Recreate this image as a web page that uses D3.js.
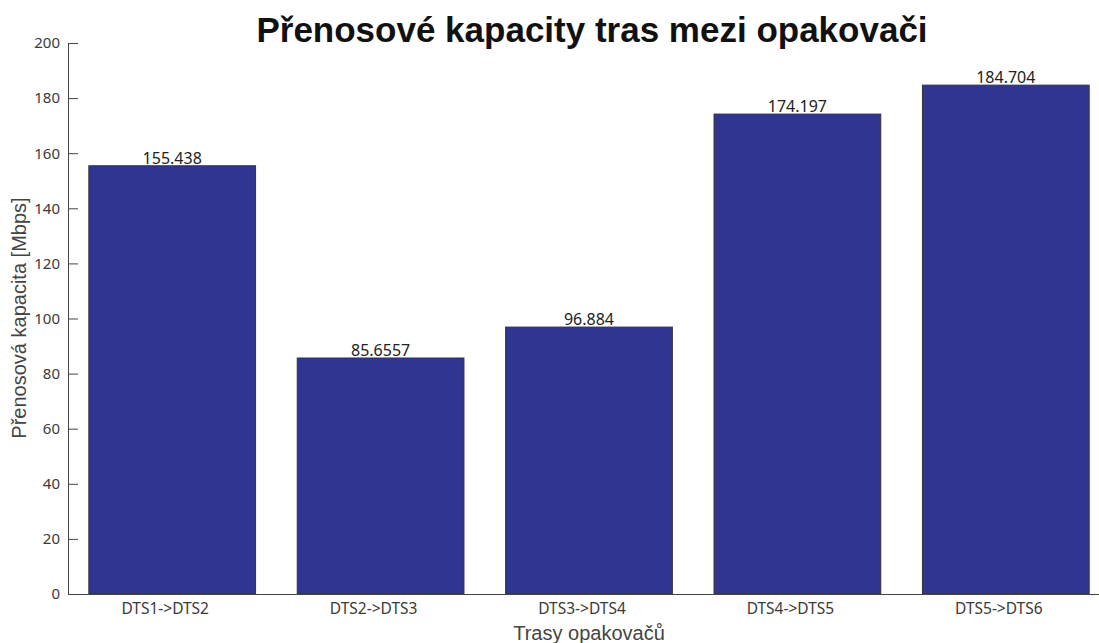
<!DOCTYPE html>
<html>
<head>
  <meta charset="utf-8">
  <title>Přenosové kapacity tras</title>
  <script src="https://d3js.org/d3.v7.min.js"></script>
  <style>
    body { margin: 0; background: white; }
    .tick text { font-family: "Noto Sans", sans-serif; fill: #3a3a3a; }
    .domain, .tick line { stroke: #444; }
  </style>
</head>
<body>
<script>
  // Data
  var routes = ["DTS1->DTS2", "DTS2->DTS3", "DTS3->DTS4", "DTS4->DTS5", "DTS5->DTS6"];
  var capacity = [155.438, 85.6557, 96.884, 174.197, 184.704];
  var yTicks = [0, 20, 40, 60, 80, 100, 120, 140, 160, 180, 200];

  var width = 1099, height = 643;
  var margin = {left: 68, right: 1110, top: 43, bottom: 594};

  var svg = d3.select("body").append("svg")
      .attr("width", width)
      .attr("height", height);

  var x = d3.scaleBand().domain(routes).range([margin.left, margin.right])
      .paddingInner(0.2).paddingOuter(0.1);
  var y = d3.scaleLinear().domain([0, 200]).range([margin.bottom, margin.top]);

  // Bars
  svg.selectAll(".bar")
      .data(routes)
      .enter().append("rect")
      .attr("class", "bar")
      .attr("x", function(d) { return x(d); })
      .attr("width", x.bandwidth())
      .attr("y", function(d, i) { return y(capacity[i]); })
      .attr("height", function(d, i) { return y(0) - y(capacity[i]); })
      .attr("fill", "#303591")
      .attr("stroke", "#333")
      .attr("stroke-width", 1);

  // Value labels
  svg.selectAll(".val")
      .data(routes)
      .enter().append("text")
      .attr("class", "val")
      .attr("x", function(d) { return x(d) + x.bandwidth() / 2; })
      .attr("y", function(d, i) { return y(capacity[i]) - 2; })
      .attr("text-anchor", "middle")
      .style("font", "16px 'Noto Sans', sans-serif")
      .style("fill", "#222")
      .text(function(d, i) { return capacity[i]; });

  // axisLeft (ticks inward)
  svg.append("g")
      .attr("transform", "translate(" + margin.left + ",0)")
      .call(d3.axisLeft(y).tickValues(yTicks).tickSizeInner(-10).tickSizeOuter(0).tickPadding(8))
      .selectAll(".tick text").style("font-size", "15px");

  // axisBottom
  svg.append("g")
      .attr("transform", "translate(0," + margin.bottom + ")")
      .call(d3.axisBottom(x).tickSizeInner(0).tickSizeOuter(0).tickPadding(9))
      .selectAll(".tick text")
      .attr("dx", -7)
      .style("font-size", "15.5px");

  // Title
  svg.append("text")
      .attr("x", 592)
      .attr("y", 42)
      .attr("text-anchor", "middle")
      .style("font", "bold 35px 'Liberation Sans', Arial, sans-serif")
      .style("fill", "#111")
      .text("Přenosové kapacity tras mezi opakovači");

  // Axis labels
  svg.append("text")
      .attr("x", 589)
      .attr("y", 640)
      .attr("text-anchor", "middle")
      .style("font", "20px 'Liberation Sans', Arial, sans-serif")
      .style("fill", "#444")
      .text("Trasy opakovačů");

  svg.append("text")
      .attr("transform", "translate(26,318) rotate(-90)")
      .attr("text-anchor", "middle")
      .style("font", "20px 'Liberation Sans', Arial, sans-serif")
      .style("fill", "#444")
      .text("Přenosová kapacita [Mbps]");
</script>
</body>
</html>
